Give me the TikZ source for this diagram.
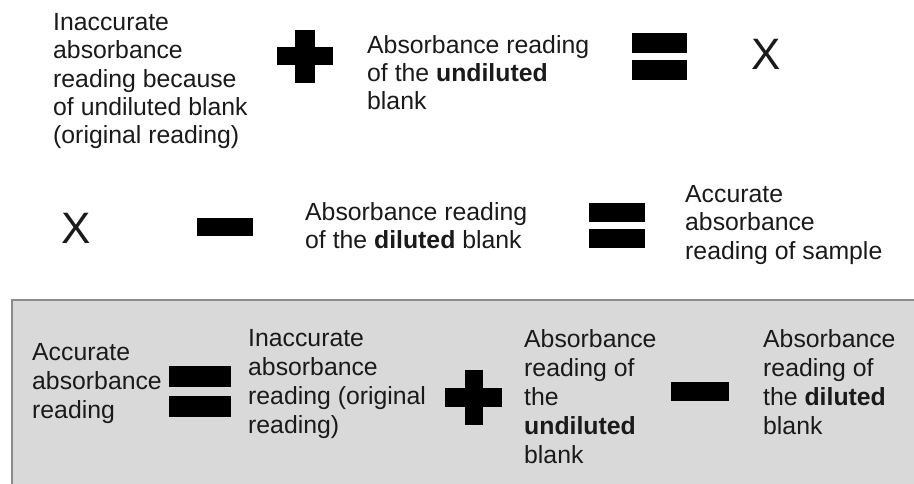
\documentclass[tikz,border=0pt]{standalone}
\usepackage{fontspec}
\setmainfont{Liberation Sans}
\definecolor{boxfill}{HTML}{D9D9D9}
\definecolor{boxline}{HTML}{8C8C8C}
\definecolor{txtcol}{HTML}{1A1A1A}
\begin{document}
\begin{tikzpicture}[x=1pt,y=-1pt,
  txt/.style={anchor=north west,inner sep=0pt,align=left,text=txtcol,font=\fontsize{24.8}{28.4}\selectfont},
  boxtxt/.style={txt,font=\fontsize{24.8}{29}\selectfont},
  bigx/.style={inner sep=0pt,text=txtcol,font=\fontsize{44}{44}\selectfont},
  opbar/.style={fill=black}]
\useasboundingbox (0,0) rectangle (914,484);
% grey panel
\fill[boxfill] (12,300) rectangle (918,488);
\draw[boxline,line width=1.5pt] (918,300) -- (12,300) -- (12,488);

% ---- row 1 ----
\node[txt] (t1) at (53,13) {Inaccurate\\absorbance\\reading because\\of undiluted blank\\(original reading)};
\fill[opbar] (277,47) rectangle (333,65);
\fill[opbar] (295,30) rectangle (315,83);
\node[txt] (t2) at (367,35) {Absorbance reading\\of the \textbf{undiluted}\\blank};
\fill[opbar] (632,33) rectangle (687,53);
\fill[opbar] (632,60) rectangle (687,80);
\node[bigx] (x1) at (766.5,54) {X};

% ---- row 2 ----
\node[bigx] (x2) at (76,228.5) {X};
\fill[opbar] (197,218) rectangle (253,236);
\node[txt] (t3) at (305,202) {Absorbance reading\\of the \textbf{diluted} blank};
\fill[opbar] (589,203) rectangle (645,222);
\fill[opbar] (589,229) rectangle (645,248);
\node[txt] (t4) at (685,185) {Accurate\\absorbance\\reading of sample};

% ---- row 3 (panel) ----
\node[boxtxt] (t5) at (32,343) {Accurate\\absorbance\\reading};
\fill[opbar] (169,366) rectangle (231,387);
\fill[opbar] (169,396) rectangle (231,417);
\node[boxtxt] (t6) at (248,329) {Inaccurate\\absorbance\\reading (original\\reading)};
\fill[opbar] (445,388) rectangle (502,407);
\fill[opbar] (465,370) rectangle (483,425);
\node[boxtxt] (t7) at (524,329) {Absorbance\\reading of\\the\\\textbf{undiluted}\\blank};
\fill[opbar] (671,382) rectangle (729,401);
\node[boxtxt] (t8) at (763,329) {Absorbance\\reading of\\the \textbf{diluted}\\blank};
\end{tikzpicture}
\end{document}
